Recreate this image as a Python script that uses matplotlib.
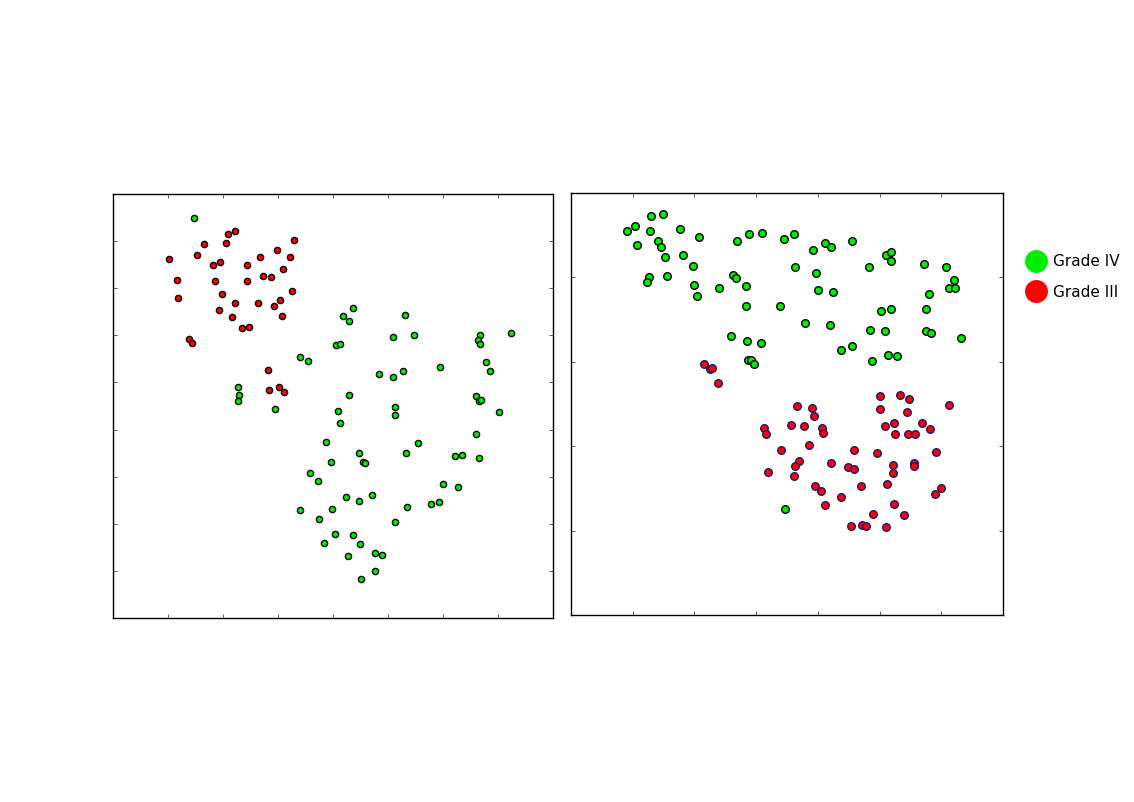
import matplotlib
matplotlib.use("Agg")
import matplotlib.pyplot as plt
from matplotlib.lines import Line2D
import numpy as np

# left panel: embedding coloured by grade
left_grade4_x = [1.47, 3.40, 3.54, 4.05, 4.13, 2.28, 2.29, 2.27, 2.95, 4.37, 4.19, 4.30,
                 5.31, 5.10, 5.48, 6.67, 6.64, 6.67, 7.23, 4.83, 5.10, 5.27, 5.95, 6.78,
                 6.85, 4.29, 4.09, 4.13, 5.13, 5.13, 6.60, 6.66, 6.69, 7.01, 3.87, 4.47,
                 4.54, 4.59, 3.96, 5.33, 5.55, 6.60, 6.22, 6.34, 6.65, 3.59, 3.73, 6.00,
                 6.27, 4.23, 4.47, 4.71, 3.40, 3.99, 5.35, 5.78, 5.93, 3.75, 5.12, 4.04,
                 4.36, 3.84, 4.49, 4.27, 4.77, 4.90, 4.76, 4.51]
left_grade4_y = [8.49, 5.55, 5.45, 5.79, 5.82, 4.90, 4.73, 4.60, 4.44, 6.58, 6.41, 6.31,
                 6.43, 5.96, 6.00, 6.01, 5.90, 5.81, 6.04, 5.17, 5.11, 5.24, 5.33, 5.44,
                 5.25, 4.73, 4.39, 4.13, 4.48, 4.30, 4.71, 4.60, 4.63, 4.37, 3.73, 3.51,
                 3.32, 3.28, 3.32, 3.50, 3.72, 3.90, 3.44, 3.47, 3.39, 3.08, 2.91, 2.85,
                 2.79, 2.57, 2.49, 2.61, 2.30, 2.31, 2.35, 2.41, 2.46, 2.10, 2.03, 1.78,
                 1.77, 1.60, 1.58, 1.32, 1.38, 1.33, 1.00, 0.83]

left_grade3_x = [2.22, 2.10, 3.30, 1.65, 2.05, 2.99, 1.02, 1.53, 2.68, 3.22, 1.82, 1.95,
                 2.43, 3.09, 2.73, 2.88, 1.16, 1.85, 2.44, 3.26, 1.19, 1.98, 2.21, 2.63,
                 3.04, 2.92, 1.92, 3.08, 2.17, 2.34, 2.47, 1.38, 1.44, 2.81, 2.84, 3.02,
                 3.10]
left_grade3_y = [8.22, 8.15, 8.03, 7.93, 7.95, 7.81, 7.63, 7.71, 7.66, 7.66, 7.50, 7.56,
                 7.50, 7.40, 7.25, 7.23, 7.18, 7.15, 7.15, 6.94, 6.79, 6.88, 6.69, 6.69,
                 6.74, 6.62, 6.54, 6.40, 6.39, 6.16, 6.17, 5.92, 5.83, 5.27, 4.85, 4.91,
                 4.79]

# right panel
right_grade4_x = [1.30, 1.49, 0.90, 1.03, 1.28, 1.76, 1.07, 1.41, 1.46, 2.07, 1.52, 1.81,
                  1.97, 1.26, 1.23, 1.56, 2.00, 2.04, 2.40, 2.69, 2.88, 3.10, 3.45, 3.62,
                  2.62, 2.67, 2.84, 2.84, 3.39, 3.63, 3.92, 4.11, 4.22, 4.56, 3.97, 4.00,
                  4.24, 3.79, 4.19, 4.83, 5.10, 5.18, 5.19, 5.72, 6.07, 6.20, 6.13, 6.23,
                  5.80, 5.75, 5.03, 5.18, 4.85, 5.09, 5.76, 5.84, 6.32, 4.38, 4.55, 4.88,
                  5.13, 5.28, 2.60, 2.85, 3.08, 2.87, 2.92, 2.97, 3.46]
right_grade4_y = [4.73, 4.75, 4.55, 4.61, 4.55, 4.57, 4.38, 4.43, 4.36, 4.48, 4.24, 4.27,
                  4.14, 4.01, 3.95, 4.02, 3.91, 3.78, 3.87, 4.43, 4.51, 4.53, 4.46, 4.52,
                  4.03, 3.99, 3.90, 3.66, 3.66, 4.12, 4.32, 4.41, 4.36, 4.43, 4.05, 3.85,
                  3.83, 3.46, 3.44, 4.12, 4.27, 4.30, 4.20, 4.16, 4.12, 3.97, 3.87, 3.87,
                  3.80, 3.63, 3.60, 3.63, 3.38, 3.36, 3.36, 3.34, 3.28, 3.14, 3.19, 3.01,
                  3.08, 3.07, 3.30, 3.25, 3.22, 3.02, 3.02, 2.97, 1.26]

right_grade3_x = [2.15, 2.25, 2.29, 2.39, 5.01, 5.33, 5.47, 6.13, 5.00, 5.44, 3.66, 3.91,
                  3.94, 3.13, 3.16, 3.57, 3.78, 4.06, 4.09, 5.08, 5.24, 5.25, 5.46, 5.58,
                  5.68, 5.82, 3.40, 3.85, 4.58, 4.96, 5.92, 3.70, 3.63, 3.19, 3.62, 4.21,
                  4.49, 4.58, 5.21, 5.21, 5.55, 5.56, 5.12, 4.70, 3.95, 4.05, 4.37, 4.12,
                  5.23, 4.89, 5.39, 6.00, 5.90, 4.53, 4.72, 4.78, 5.10]
right_grade3_y = [2.97, 2.91, 2.93, 2.75, 2.60, 2.61, 2.56, 2.49, 2.44, 2.41, 2.48, 2.45,
                  2.36, 2.21, 2.14, 2.25, 2.24, 2.22, 2.16, 2.24, 2.27, 2.14, 2.14, 2.14,
                  2.27, 2.20, 1.95, 2.01, 1.96, 1.92, 1.93, 1.83, 1.77, 1.70, 1.65, 1.80,
                  1.75, 1.73, 1.78, 1.68, 1.80, 1.77, 1.55, 1.53, 1.53, 1.47, 1.40, 1.30,
                  1.32, 1.20, 1.19, 1.50, 1.43, 1.06, 1.07, 1.05, 1.04]

GREEN = '#00ee00'
RED = '#ff0000'

fig = plt.figure(figsize=(11.34, 8.02), dpi=100)
ax1 = fig.add_axes([113/1134, 1 - 618/802, 440/1134, 424/802])
ax2 = fig.add_axes([571/1134, 1 - 615/802, 432/1134, 422/802])

ax1.scatter(left_grade4_x, left_grade4_y, s=20, c=GREEN, edgecolors='black', linewidths=1.0, zorder=3)
ax1.scatter(left_grade3_x, left_grade3_y, s=20, c=RED, edgecolors='black', linewidths=1.0, zorder=3)
ax1.set_xlim(0, 8)
ax1.set_ylim(0, 9)
ax1.set_xticks(np.arange(1, 8))
ax1.set_yticks(np.arange(1, 9))

ax2.scatter(right_grade4_x, right_grade4_y, s=30, c=GREEN, edgecolors='black', linewidths=1.0, zorder=3)
ax2.scatter(right_grade3_x, right_grade3_y, s=30, c=RED, edgecolors='#1a1a6e', linewidths=1.0, zorder=3)
ax2.set_xlim(0, 7)
ax2.set_ylim(0, 5)
ax2.set_xticks(np.arange(1, 7))
ax2.set_yticks(np.arange(1, 5))

for ax in (ax1, ax2):
    ax.tick_params(direction='in', length=3, width=0.6, color='#444444',
                   top=True, right=True, labelbottom=False, labelleft=False)
    for sp in ax.spines.values():
        sp.set_linewidth(1.0)

handles = [Line2D([], [], ls='', marker='o', ms=16.5, mfc=GREEN, mec='none'),
           Line2D([], [], ls='', marker='o', ms=16.5, mfc=RED, mec='none')]
fig.legend(handles, ['Grade IV', 'Grade III'], loc='center left',
           bbox_to_anchor=(1013/1134, 1 - 277/802), frameon=False,
           fontsize=11, handlelength=1.2, handletextpad=0.5, labelspacing=1.0)

fig.savefig('out.png', dpi=100)
